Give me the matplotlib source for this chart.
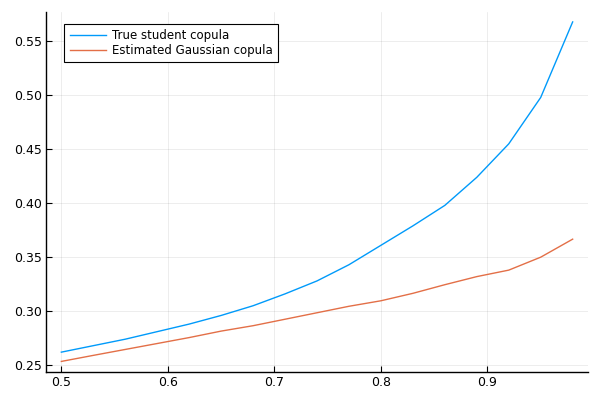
import matplotlib
matplotlib.use("Agg")
import matplotlib.pyplot as plt

# grille des seuils
u = [0.50, 0.53, 0.56, 0.59, 0.62, 0.65, 0.68, 0.71, 0.74,
     0.77, 0.80, 0.83, 0.86, 0.89, 0.92, 0.95, 0.98]

# valeurs
true_student = [0.262, 0.268, 0.274, 0.281, 0.288, 0.296, 0.305, 0.316, 0.328,
                0.343, 0.361, 0.379, 0.398, 0.424, 0.455, 0.498, 0.568]
est_gaussian = [0.2534, 0.259, 0.2645, 0.270, 0.2755, 0.2815, 0.2865, 0.2925, 0.2985,
                0.3045, 0.3096, 0.3165, 0.3245, 0.3320, 0.3380, 0.3500, 0.3667]

labels = ["True student copula", "Estimated Gaussian copula"]
colors = ["#009AFA", "#E36F47"]

fig = plt.figure(figsize=(6, 4), dpi=100)
ax = fig.add_axes([46 / 600, 28 / 400, 542 / 600, 360 / 400])

ax.plot(u, true_student, color=colors[0], lw=1, label=labels[0])
ax.plot(u, est_gaussian, color=colors[1], lw=1, label=labels[1])

ax.set_xlim(0.4856, 0.9944)
ax.set_ylim(0.2436, 0.5772)
ax.set_xticks([0.5, 0.6, 0.7, 0.8, 0.9])
ax.set_xticklabels(["0.5", "0.6", "0.7", "0.8", "0.9"])
ax.set_yticks([0.25, 0.30, 0.35, 0.40, 0.45, 0.50, 0.55])
ax.set_yticklabels(["0.25", "0.30", "0.35", "0.40", "0.45", "0.50", "0.55"])

ax.grid(True, color="black", alpha=0.1, lw=0.5)
ax.spines["top"].set_visible(False)
ax.spines["right"].set_visible(False)
for s in ("left", "bottom"):
    ax.spines[s].set_linewidth(1)
ax.tick_params(direction="in", length=4, width=0.8, labelsize=9, pad=3)

leg = ax.legend(loc="upper left", bbox_to_anchor=(0.0338, 0.9675), borderaxespad=0,
                fontsize=8.5, fancybox=False, framealpha=1, edgecolor="black",
                handlelength=3.05, handletextpad=0.5, borderpad=0.45,
                labelspacing=0.16)
leg.get_frame().set_linewidth(0.8)

fig.savefig("out.png", dpi=100)
